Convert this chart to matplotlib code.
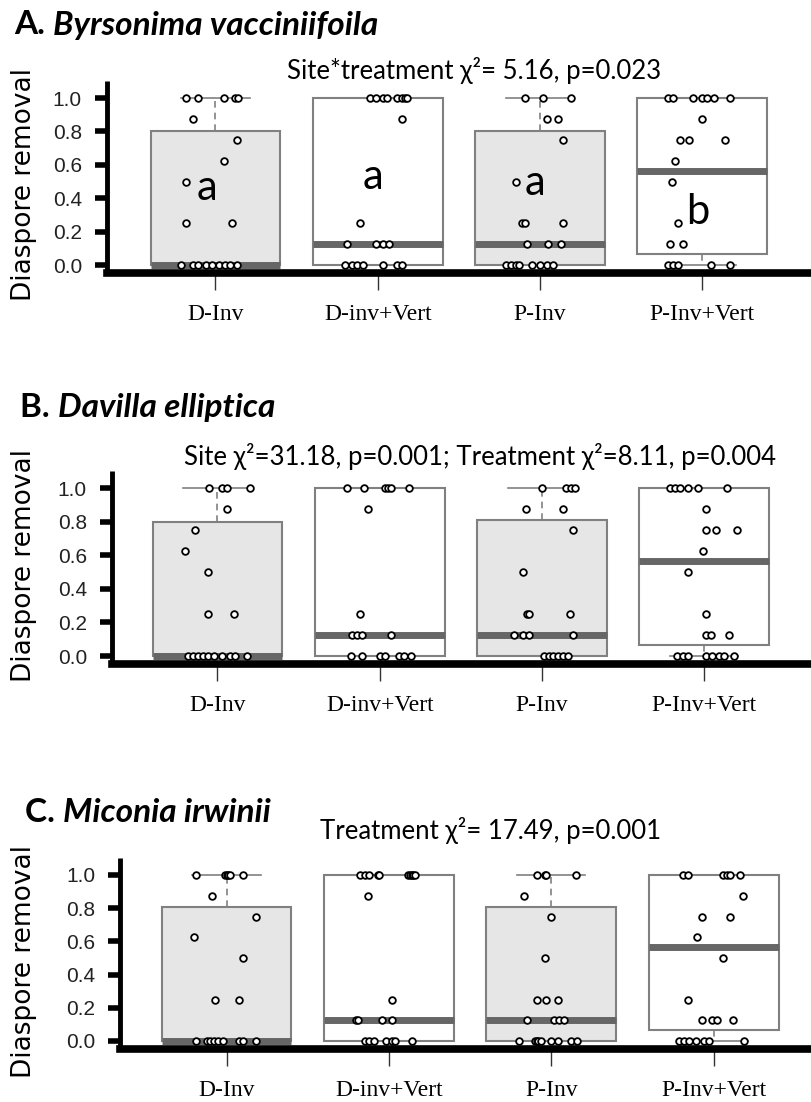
import matplotlib
matplotlib.use('Agg')
import matplotlib.pyplot as plt

W, H = 811, 1102

groups = ['D-Inv', 'D-inv+Vert', 'P-Inv', 'P-Inv+Vert']
box_fill = ['#e6e6e6', 'white', '#e6e6e6', 'white']
yticks = [0.0, 0.2, 0.4, 0.6, 0.8, 1.0]

titles = [('A.', 'Byrsonima vacciniifoila'),
          ('B.', 'Davilla elliptica'),
          ('C.', 'Miconia irwinii')]
stat_texts = ['Site*treatment χ²= 5.16, p=0.023',
              'Site χ²=31.18, p=0.001; Treatment χ²=8.11, p=0.004',
              'Treatment χ²= 17.49, p=0.001']

# box statistics (quartiles / medians)
a_q1 = [0.0, 0.0, 0.0, 0.065]
a_med = [0.0, 0.125, 0.125, 0.565]
a_q3 = [0.80, 1.0, 0.80, 1.0]
b_q1 = [0.0, 0.0, 0.0, 0.065]
b_med = [0.0, 0.125, 0.125, 0.565]
b_q3 = [0.80, 1.0, 0.81, 1.0]
c_q1 = [0.0, 0.0, 0.0, 0.066]
c_med = [0.0, 0.125, 0.125, 0.565]
c_q3 = [0.81, 1.0, 0.81, 1.0]

# individual diaspore removal values and their horizontal jitter
a_vals = [
    [1, 1, 1, 1, 1, .875, .75, .625, .5, .25, .25, 0, 0, 0, 0, 0, 0, 0, 0, 0],
    [1, 1, 1, 1, 1, 1, 1, 1, .875, .25, .125, .125, .125, .125, 0, 0, 0, 0, 0, 0, 0],
    [1, 1, 1, .875, .875, .75, .5, .25, .25, .25, .125, .125, .125, 0, 0, 0, 0, 0, 0, 0, 0],
    [1, 1, 1, 1, 1, 1, 1, .875, .75, .75, .75, .625, .5, .25, .125, .125, 0, 0, 0, 0, 0],
]
a_jit = [
    [-.18, -.11, .05, .12, .14, -.14, .13, .05, -.18, -.18, .10,
     -.21, -.14, -.11, -.06, -.02, .02, .06, .09, .13],
    [-.05, -.01, .03, .06, .12, .15, .17, .18, .15, -.11, -.19, -.01, .03, .07,
     -.20, -.16, -.13, -.09, .03, .12, .15],
    [-.09, .02, .19, .04, .11, .14, -.15, -.11, -.09, .14, -.08, .05, .13,
     -.21, -.18, -.15, -.13, -.05, .00, .04, .08],
    [-.21, -.18, -.06, .00, .03, .07, .17, .00, -.14, -.08, .14, -.17, -.19, -.15,
     -.20, -.12, -.21, -.18, -.15, .05, .17],
]
b_vals = [
    [1, 1, 1, 1, .875, .75, .625, .5, .25, .25, 0, 0, 0, 0, 0, 0, 0, 0, 0, 0],
    [1, 1, 1, 1, 1, 1, .875, .25, .125, .125, .125, .125, 0, 0, 0, 0, 0, 0, 0],
    [1, 1, 1, 1, .875, .875, .75, .5, .25, .25, .25, .125, .125, .125, .125, 0, 0, 0, 0, 0, 0],
    [1, 1, 1, 1, 1, 1, .875, .75, .75, .75, .625, .5, .25, .125, .125, .125,
     0, 0, 0, 0, 0, 0, 0, 0],
]
b_jit = [
    [-.05, .03, .06, .20, .06, -.14, -.20, -.06, -.06, .10,
     -.18, -.15, -.12, -.09, -.06, -.02, .03, .08, .11, .18],
    [-.20, -.10, .03, .05, .07, .18, -.07, -.12, -.17, -.14, -.11, .07,
     -.18, -.11, .00, .03, .12, .15, .19],
    [.00, .15, .18, .20, -.10, .13, .19, -.12, -.09, -.08, .17, -.17, -.12, -.08, .19,
     .01, .04, .07, .10, .13, .16],
    [-.21, -.18, -.15, -.10, -.04, .14, .01, .01, .07, .20, -.01, -.10, .01, .01, .04, .15,
     -.17, -.13, -.10, .01, .05, .09, .12, .18],
]
c_vals = [
    [1, 1, 1, 1, 1, 1, .875, .75, .625, .5, .25, .25, 0, 0, 0, 0, 0, 0, 0, 0, 0],
    [1, 1, 1, 1, 1, 1, 1, 1, 1, 1, .875, .25, .125, .125, .125, .125, 0, 0, 0, 0, 0, 0, 0],
    [1, 1, 1, 1, .875, .75, .5, .25, .25, .25, .125, .125, .125, .125,
     0, 0, 0, 0, 0, 0, 0, 0, 0],
    [1, 1, 1, 1, 1, 1, .875, .75, .75, .625, .5, .25, .125, .125, .125, .125,
     0, 0, 0, 0, 0, 0, 0],
]
c_jit = [
    [-.19, -.01, .00, .01, .02, .10, -.09, .18, -.20, .10, -.07, .08,
     -.19, -.12, -.10, -.08, -.05, -.02, .08, .10, .18],
    [-.18, -.15, -.12, -.07, -.06, .12, .13, .14, .15, .16, -.13, .02, -.20, -.19, -.04, .02,
     -.15, -.12, -.09, -.02, .02, .04, .14],
    [-.09, -.04, -.03, .15, -.17, .00, -.04, -.09, -.03, .04, -.15, .02, .05, .08,
     -.20, -.10, -.09, -.08, -.06, .00, .04, .12, .16],
    [-.19, -.16, .06, .08, .10, .16, .18, -.07, .10, -.10, .06, -.16, -.07, -.01, .02, .12,
     -.21, -.18, -.15, -.11, -.06, -.03, .19],
]

# significance letters (panel A only)
letters = ['a', 'a', 'a', 'b']
letter_y = [0.46, 0.53, 0.49, 0.32]
letter_dx = [-0.05, -0.03, -0.03, -0.03]

panels = [
    dict(q1=a_q1, med=a_med, q3=a_q3, vals=a_vals, jit=a_jit),
    dict(q1=b_q1, med=b_med, q3=b_q3, vals=b_vals, jit=b_jit),
    dict(q1=c_q1, med=c_med, q3=c_q3, vals=c_vals, jit=c_jit),
]

# layout in pixels: spine x, bottom spine y, top y, xlim, title, stat text, ylabel
layout = [
    dict(left=107, bottom=273.4, top=81.3, xlim=(0.332, 4.669), title=(14, 25),
         stat=(474, 70), ylab=185),
    dict(left=112, bottom=664.4, top=471.2, xlim=(0.350, 4.657), title=(20, 408),
         stat=(480, 457), ylab=566),
    dict(left=120, bottom=1049.3, top=858.4, xlim=(0.344, 4.600), title=(25, 812),
         stat=(491, 830), ylab=962),
]

fig = plt.figure(figsize=(W / 100, H / 100), dpi=100)
sans = ['Lato', 'DejaVu Sans']

for k, (p, lay) in enumerate(zip(panels, layout)):
    ax = fig.add_axes([lay['left'] / W, 1 - lay['bottom'] / H,
                       1 - lay['left'] / W, (lay['bottom'] - lay['top']) / H])
    pos = [1, 2, 3, 4]
    stats = [dict(med=m, q1=lo, q3=hi, whislo=0.0, whishi=1.0, fliers=[])
             for lo, m, hi in zip(p['q1'], p['med'], p['q3'])]
    bp = ax.bxp(stats, positions=pos, widths=0.8, capwidths=0.42,
                patch_artist=True, showfliers=False,
                boxprops=dict(edgecolor='#808080', linewidth=1.5),
                medianprops=dict(color='#666666', linewidth=5, solid_capstyle='butt'),
                whiskerprops=dict(color='#808080', linestyle=(0, (4, 3)), linewidth=1.2),
                capprops=dict(color='#808080', linewidth=1.2))
    for patch, fc in zip(bp['boxes'], box_fill):
        patch.set_facecolor(fc)

    for i, (vals, jit) in enumerate(zip(p['vals'], p['jit'])):
        xs = [pos[i] + j for j in jit]
        ax.plot(xs, vals, 'o', ms=4.8, mfc='white', mec='black', mew=1.3,
                zorder=4, clip_on=False)

    ax.set_xlim(*lay['xlim'])
    ax.set_ylim(-0.05, 1.10)
    ax.set_xticks(pos)
    ax.set_xticklabels(groups, fontfamily='Liberation Serif', fontsize=17)
    ax.set_yticks(yticks)
    ax.set_yticklabels(['%.1f' % t for t in yticks], fontfamily='Liberation Sans',
                       fontsize=15, color='#222222')
    ax.tick_params(axis='y', length=9, width=4, pad=9, color='black')
    ax.tick_params(axis='x', length=12, width=1.0, pad=10, color='#333333')
    for s in ['top', 'right']:
        ax.spines[s].set_visible(False)
    ax.spines['left'].set_linewidth(3.5)
    ax.spines['bottom'].set_linewidth(5.5)
    ax.spines['left'].set_capstyle('butt')

    # panel title: bold label + bold italic species name
    tx, ty = lay['title']
    t = fig.text(tx / W, 1 - ty / H, titles[k][0] + ' ',
                 fontsize=24, fontweight='bold', family=sans, va='center', ha='left')
    ax.annotate(titles[k][1], xy=(1, 0), xycoords=t,
                fontsize=24, fontweight='bold', fontstyle='italic', family=sans,
                va='bottom', ha='left', annotation_clip=False)

    sx, sy = lay['stat']
    fig.text(sx / W, 1 - sy / H, stat_texts[k], fontsize=18.5,
             family=sans, ha='center', va='center')
    fig.text(24 / W, 1 - lay['ylab'] / H, 'Diaspore removal', rotation=90,
             fontsize=19, family='DejaVu Sans', ha='center', va='center')

    if k == 0:
        for i, (lt, ly, dx) in enumerate(zip(letters, letter_y, letter_dx)):
            ax.text(pos[i] + dx, ly, lt, fontsize=30, family=sans,
                    ha='center', va='center', zorder=5)

fig.savefig('out.png', dpi=100)
